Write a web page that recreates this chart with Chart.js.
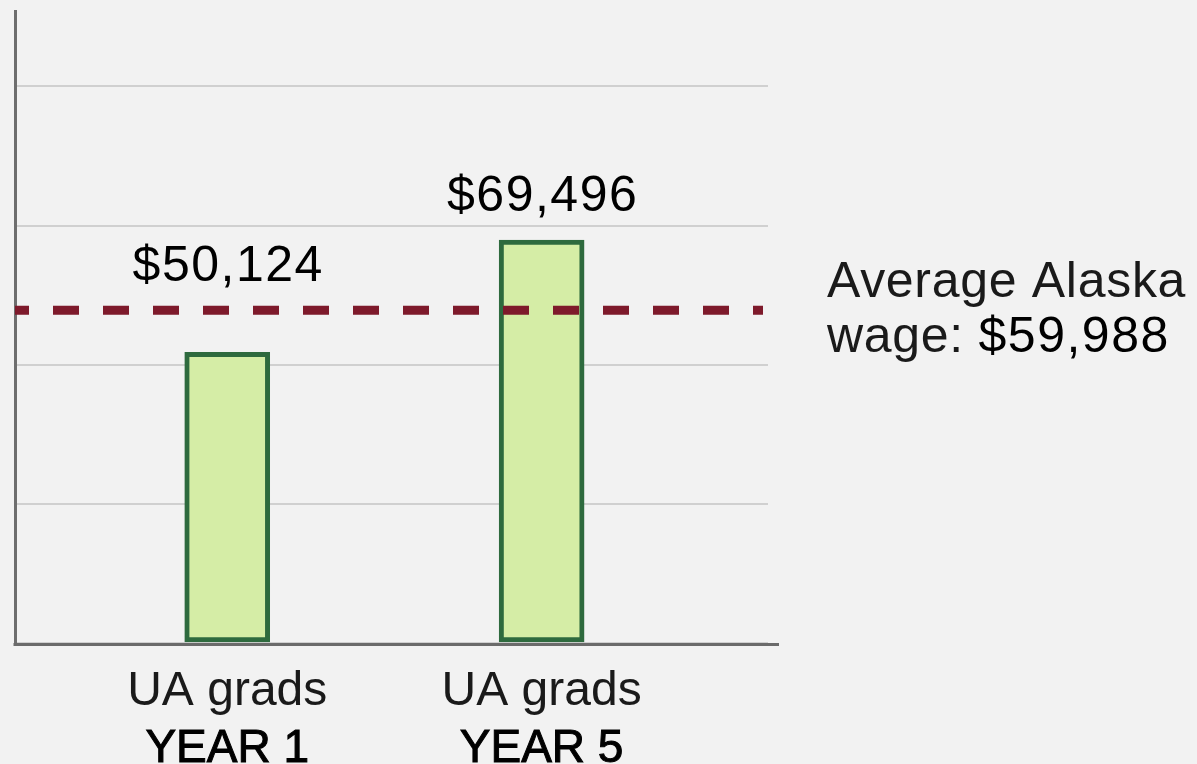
<!DOCTYPE html>
<html>
<head>
<meta charset="utf-8">
<title>UA grads wages</title>
<script src="https://cdn.jsdelivr.net/npm/chart.js@4.4.1/dist/chart.umd.min.js"></script>
<style>
  html, body { margin: 0; padding: 0; background: #f2f2f2; }
  #wageChart { display: block; }
</style>
</head>
<body>
<canvas id="wageChart" width="1197" height="764"></canvas>
<script>
// values
const years = [1, 5];
const groupLabels = ['UA grads', 'UA grads'];
const yearLabels = ['YEAR 1', 'YEAR 5'];
const wages = [50124, 69496];
const yTicks = [0, 24000, 48000, 72000, 96000];
const avgWageLine = [57400];   // where the dashed line sits on the axis
const avgWageText = ['Average Alaska', 'wage: ', '$59,988'];

const FONT = '"Liberation Sans", Arial, Helvetica, sans-serif';
const money = v => '$' + v.toLocaleString('en-US');

// grey page behind everything
const background = {
    id: 'background',
    beforeDraw(chart) {
        const ctx = chart.ctx;
        ctx.save();
        ctx.fillStyle = '#f2f2f2';
        ctx.fillRect(0, 0, chart.width, chart.height);
        ctx.restore();
    }
};

// dashed average line, x axis, value and category labels
const annotations = {
    id: 'annotations',
    afterDatasetsDraw(chart) {
        const { ctx, chartArea, scales } = chart;
        const avgY = scales.y.getPixelForValue(avgWageLine[0]);

        ctx.save();
        ctx.strokeStyle = '#7e1a2b';
        ctx.lineWidth = 9;
        ctx.setLineDash([26, 24]);
        ctx.lineDashOffset = 12;
        ctx.beginPath();
        ctx.moveTo(chartArea.left, avgY);
        ctx.lineTo(chartArea.right - 5, avgY);
        ctx.stroke();
        ctx.setLineDash([]);

        // x axis runs a little past the grid lines
        ctx.strokeStyle = '#6b6b6b';
        ctx.lineWidth = 3;
        ctx.beginPath();
        ctx.moveTo(chartArea.left - 1.5, chartArea.bottom + 1.5);
        ctx.lineTo(chartArea.right + 11, chartArea.bottom + 1.5);
        ctx.stroke();

        ctx.textBaseline = 'alphabetic';
        ctx.textAlign = 'center';
        const meta = chart.getDatasetMeta(0);
        meta.data.forEach((bar, i) => {
            ctx.fillStyle = '#000';
            ctx.font = '50px ' + FONT;
            ctx.letterSpacing = '1.5px';
            ctx.fillText(money(wages[i]), bar.x + 1, Math.min(bar.y, avgY) - 29);
            ctx.letterSpacing = '0px';

            ctx.font = '48px ' + FONT;
            ctx.fillStyle = '#1a1a1a';
            ctx.fillText(groupLabels[i], bar.x, chartArea.bottom + 62);

            // medium weight: regular face with a hairline stroke
            ctx.font = '46px ' + FONT;
            ctx.fillStyle = '#000';
            ctx.strokeStyle = '#000';
            ctx.lineWidth = 1;
            ctx.fillText(yearLabels[i], bar.x, chartArea.bottom + 119);
            ctx.strokeText(yearLabels[i], bar.x, chartArea.bottom + 119);
        });

        // label for the average line
        const tx = chartArea.right + 59;
        ctx.textAlign = 'left';
        ctx.font = '50px ' + FONT;
        ctx.letterSpacing = '0.7px';
        ctx.fillStyle = '#1a1a1a';
        ctx.fillText(avgWageText[0], tx, avgY - 13);
        ctx.fillText(avgWageText[1], tx, avgY + 42);
        const w = ctx.measureText(avgWageText[1]).width;
        ctx.fillStyle = '#000';
        ctx.letterSpacing = '1.5px';
        ctx.fillText(avgWageText[2], tx + w, avgY + 42);
        ctx.restore();
    }
};

new Chart(document.getElementById('wageChart'), {
    type: 'bar',
    data: {
        datasets: [{
            data: years.map((yr, i) => ({ x: yr, y: wages[i] })),
            backgroundColor: '#d5eda6',
            borderColor: '#2e6a3e',
            borderWidth: 5,
            borderSkipped: false,
            barThickness: 85
        }]
    },
    options: {
        responsive: false,
        animation: false,
        devicePixelRatio: 1,
        layout: {
            padding: { top: 11, right: 429, bottom: 121, left: 0 }
        },
        scales: {
            x: {
                type: 'linear',
                display: false,
                offset: false,
                min: -1.7,
                max: 7.88
            },
            y: {
                min: 0,
                max: 109000,
                afterBuildTicks: (scale) => {
                    scale.ticks = yTicks.map(v => ({ value: v }));
                },
                ticks: { display: false },
                grid: { color: '#d0d0d0', lineWidth: 2, drawTicks: false },
                border: { display: true, color: '#6e6e6e', width: 3 },
                afterFit: (scale) => { scale.width = 15; }
            }
        },
        plugins: {
            legend: { display: false },
            tooltip: { enabled: false }
        }
    },
    plugins: [background, annotations]
});
</script>
</body>
</html>
